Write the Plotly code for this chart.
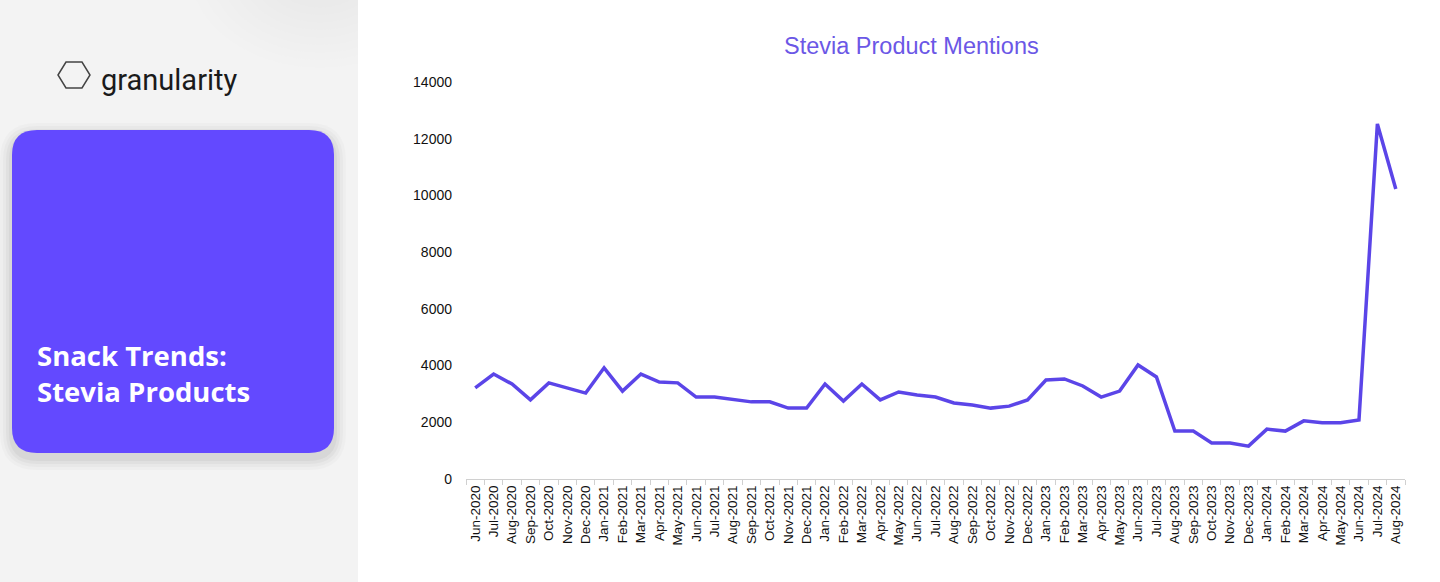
import plotly.graph_objects as go

months = ["Jun-2020","Jul-2020","Aug-2020","Sep-2020","Oct-2020","Nov-2020","Dec-2020",
          "Jan-2021","Feb-2021","Mar-2021","Apr-2021","May-2021","Jun-2021","Jul-2021","Aug-2021","Sep-2021","Oct-2021","Nov-2021","Dec-2021",
          "Jan-2022","Feb-2022","Mar-2022","Apr-2022","May-2022","Jun-2022","Jul-2022","Aug-2022","Sep-2022","Oct-2022","Nov-2022","Dec-2022",
          "Jan-2023","Feb-2023","Mar-2023","Apr-2023","May-2023","Jun-2023","Jul-2023","Aug-2023","Sep-2023","Oct-2023","Nov-2023","Dec-2023",
          "Jan-2024","Feb-2024","Mar-2024","Apr-2024","May-2024","Jun-2024","Jul-2024","Aug-2024"]
mentions = [3210, 3700, 3350, 2790, 3390, 3210, 3030,
            3920, 3100, 3700, 3420, 3390, 2890, 2890, 2790, 2720, 2720, 2500, 2500,
            3350, 2750, 3350, 2790, 3070, 2960, 2890, 2680, 2610, 2500, 2570, 2790,
            3490, 3530, 3280, 2890, 3100, 4020, 3600, 1690, 1690, 1270, 1270, 1160,
            1760, 1690, 2050, 1980, 1980, 2080, 12520, 10230]
y_ticks = [0, 2000, 4000, 6000, 8000, 10000, 12000, 14000]

W, H = 1440, 582
L, R, T, B = 466, 35, 82, 103
PW, PH = W - L - R, H - T - B

def px(x):
    return (x - L) / PW

def py(y):
    return 1 - (y - T) / PH

fig = go.Figure()
fig.add_trace(go.Scatter(
    x=months, y=mentions, mode="lines",
    line=dict(color="#5b45e8", width=3.5),
    hoverinfo="x+y", showlegend=False,
))

shapes = []
# left panel background
shapes.append(dict(type="rect", xref="paper", yref="paper", x0=px(0), x1=px(358), y0=py(582), y1=py(0),
                   fillcolor="#f3f3f3", line=dict(width=0), layer="below"))
# soft top-right shading
for r in range(130, 10, -10):
    shapes.append(dict(type="circle", xref="paper", yref="paper",
                       x0=px(320 - r), x1=px(320 + r), y0=py(-30 + r * 0.75), y1=py(-30 - r * 0.75),
                       fillcolor="rgba(180,180,180,0.018)", line=dict(width=0), layer="below"))
# white area right of panel (covers any spill)
shapes.append(dict(type="rect", xref="paper", yref="paper", x0=px(358), x1=px(1440), y0=py(582), y1=py(0),
                   fillcolor="white", line=dict(width=0), layer="below"))

def rounded(x0, y0, x1, y1, r):
    X = lambda v: f"{px(v):.5f}"
    Y = lambda v: f"{py(v):.5f}"
    return (f"M {X(x0 + r)},{Y(y0)} L {X(x1 - r)},{Y(y0)} Q {X(x1)},{Y(y0)} {X(x1)},{Y(y0 + r)} "
            f"L {X(x1)},{Y(y1 - r)} Q {X(x1)},{Y(y1)} {X(x1 - r)},{Y(y1)} "
            f"L {X(x0 + r)},{Y(y1)} Q {X(x0)},{Y(y1)} {X(x0)},{Y(y1 - r)} "
            f"L {X(x0)},{Y(y0 + r)} Q {X(x0)},{Y(y0)} {X(x0 + r)},{Y(y0)} Z")

# card shadow
for k, a in [(12, 0.018), (9, 0.025), (6, 0.032), (3, 0.04)]:
    shapes.append(dict(type="path", xref="paper", yref="paper",
                       path=rounded(12 - k, 130 - k + 5, 334 + k, 453 + k + 5, 25 + k),
                       fillcolor=f"rgba(0,0,0,{a})", line=dict(width=0), layer="below"))
# card
shapes.append(dict(type="path", xref="paper", yref="paper", path=rounded(12, 130, 334, 453, 25),
                   fillcolor="#6349ff", line=dict(width=0), layer="below"))
# hexagon logo
hx = [(58, 75), (66, 62), (82, 62), (90, 75), (82, 88), (66, 88)]
hpath = "M " + " L ".join(f"{px(a):.5f},{py(b):.5f}" for a, b in hx) + " Z"
shapes.append(dict(type="path", xref="paper", yref="paper", path=hpath,
                   line=dict(color="#444444", width=1.5), fillcolor="rgba(0,0,0,0)"))

annotations = [
    dict(text="granularity", xref="paper", yref="paper", x=px(99), y=py(80), xanchor="left", yanchor="middle",
         showarrow=False, font=dict(family="Liberation Sans Narrow, Roboto", size=29, color="#1a1a1a")),
    dict(text="<b>Snack Trends:<br>Stevia Products</b>", xref="paper", yref="paper", x=px(35), y=py(373),
         xanchor="left", yanchor="middle", align="left", showarrow=False,
         font=dict(family="Open Sans", size=27.5, color="white")),
    dict(text="Stevia Product Mentions", xref="paper", yref="paper", x=px(911), y=py(46),
         xanchor="center", yanchor="middle", showarrow=False,
         font=dict(family="Liberation Sans, Arial", size=23.5, color="#6b57e6")),
]

fig.update_layout(
    width=W, height=H,
    margin=dict(l=L, r=R, t=T, b=B),
    paper_bgcolor="white", plot_bgcolor="white",
    shapes=shapes, annotations=annotations,
    xaxis=dict(
        type="category", categoryorder="array", categoryarray=months,
        range=[-0.5, len(months) - 0.5],
        tickson="boundaries", ticks="outside", ticklen=5, tickcolor="#d0d0d0",
        showline=True, linecolor="#d0d0d0", linewidth=1, showgrid=False,
        tickangle=-90, tickfont=dict(family="Liberation Sans, Arial", size=13.5, color="#111111"),
        fixedrange=True,
    ),
    yaxis=dict(
        range=[0, 14000], tickvals=y_ticks, ticktext=[str(v) for v in y_ticks],
        showgrid=False, zeroline=False, showline=False, ticks="",
        ticklabelstandoff=13,
        tickfont=dict(family="Liberation Sans, Arial", size=14, color="#111111"),
        fixedrange=True,
    ),
)

fig.write_html("out.html", config={"displayModeBar": False},
               post_script="document.body.style.margin='0px';document.body.style.overflow='hidden';")
